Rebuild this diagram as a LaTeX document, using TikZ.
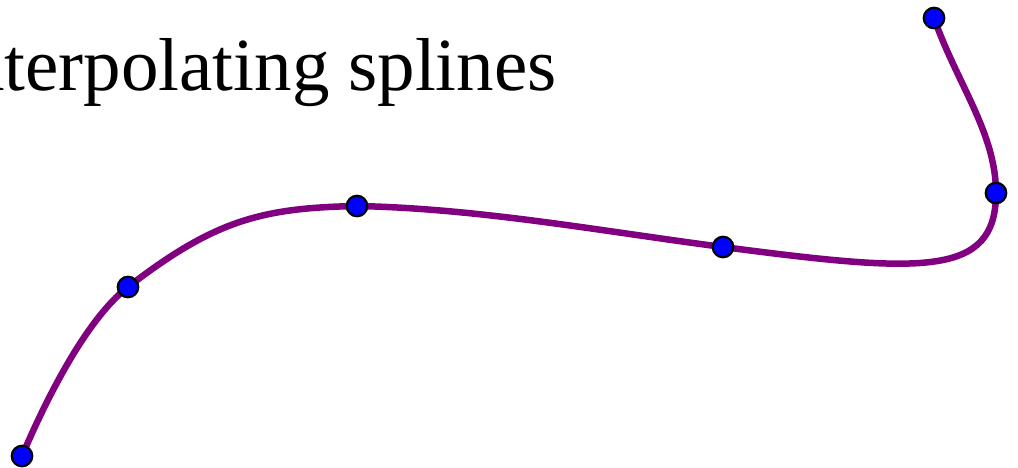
\documentclass[tikz,border=0pt]{standalone}
\usepackage{fontspec}
\setmainfont{Liberation Serif}
\begin{document}
\begin{tikzpicture}[x=1pt,y=-1pt,
  knot/.style={circle,draw=black,fill=blue,line width=2.2pt,minimum size=20.5pt,inner sep=0pt},
  spline/.style={draw={rgb,255:red,128;green,0;blue,128},line width=6.5pt}]
\useasboundingbox (0,0) rectangle (1018,467);
\clip (0,0) rectangle (1018,467);
\node[anchor=base west,inner sep=0pt,font=\fontsize{75}{80}\selectfont] (title) at (-58,90) {Interpolating splines};
\coordinate (p1) at (22,456);
\coordinate (p2) at (128,287);
\coordinate (p3) at (357,206);
\coordinate (p4) at (723,247);
\coordinate (p5) at (996,193);
\coordinate (p6) at (934,18);
\draw[spline] (p1) .. controls (43.5,405.4) and (84.5,320.6) .. (p2)
  .. controls (214.9,219.9) and (262,207.9) .. (p3)
  .. controls (479,208.4) and (602,231.3) .. (p4)
  .. controls (921.3,272.8) and (996,278) .. (p5)
  .. controls (996,133) and (957.1,83.8) .. (p6);
\foreach \p in {p1,p2,p3,p4,p5,p6} \node[knot] (k\p) at (\p) {};
\end{tikzpicture}
\end{document}
